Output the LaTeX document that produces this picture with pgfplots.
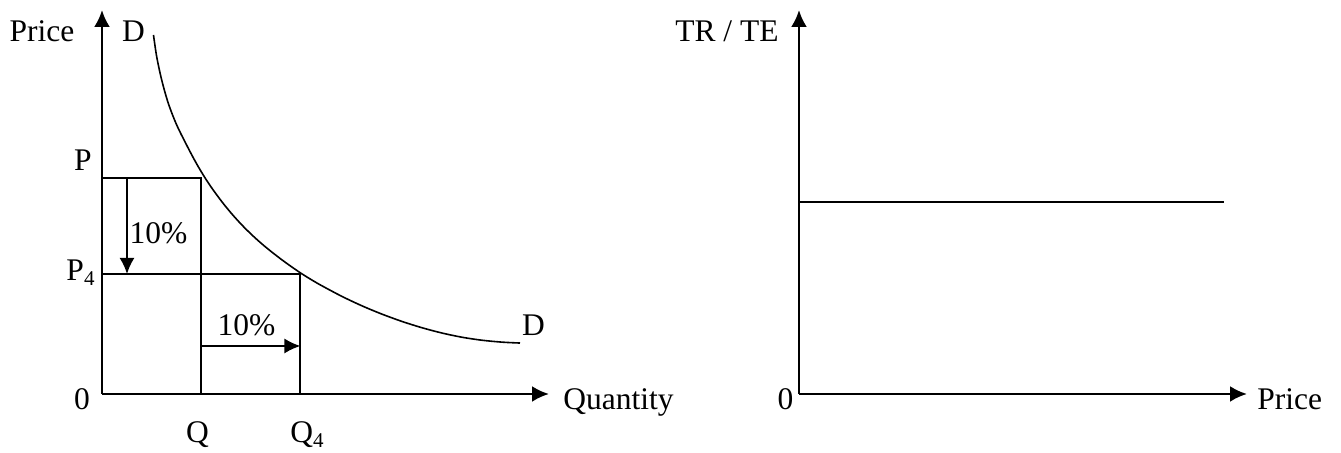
\documentclass[border=0pt]{standalone}
\usepackage{pgfplots}
\pgfplotsset{compat=1.18}
\usepackage{fontspec}
\setmainfont{Liberation Serif}
\usetikzlibrary{arrows.meta}
\newcommand{\sub}[1]{\raisebox{-2.4pt}{\fontsize{10.5}{12}\selectfont #1}}
\begin{document}
\begin{tikzpicture}[font=\fontsize{15.75}{18}\selectfont, lab/.style={inner sep=0pt}]
\useasboundingbox (0,0) rectangle (670.5pt,226.5pt);
\pgfplotsset{
  econ/.style={
    anchor=south west, x=0.5pt, y=0.5pt,
    axis lines=left,
    axis line style={line width=1.3pt,-{Latex[length=8.5pt,width=8pt]}},
    xtick=\empty, ytick=\empty, clip=false
  }
}
% Left panel: demand curve
\begin{axis}[econ, at={(51pt,29.5pt)}, xmin=0, xmax=447, ymin=0, ymax=384]
\addplot[line width=0.8pt, smooth] coordinates {
 (51.5,359) (54.7,337.3) (59.7,314) (66.3,290.7) (74.7,269) (86.3,245.7)
 (95,229.5) (103,216.2) (110,205.7) (120,192.1) (130,179.9) (140,168.9)
 (150,159.0) (160,150.0) (170,141.8) (180,134.1) (190,126.9) (200,120.1)
 (210,113.9) (220,108.15) (240,97.55) (260,88.15) (280,79.85) (300,72.55)
 (320,66.25) (340,60.95) (360,56.75) (380,53.75) (400,51.85) (418,50.95)};
\addplot[line width=1pt] coordinates {(0,216) (99.5,216) (99.5,0)};
\addplot[line width=1pt] coordinates {(0,120) (198.5,120) (198.5,0)};
\addplot[line width=1pt, -{Latex[length=8pt,width=7.5pt]}] coordinates {(25,216) (25,120)};
\addplot[line width=1pt, -{Latex[length=8pt,width=7.5pt]}] coordinates {(99.5,48) (198.5,48)};
\node[lab, anchor=base] at (axis cs:-60,352) {Price};
\node[lab, anchor=base] at (axis cs:31.5,352) {D};
\node[lab, anchor=base] at (axis cs:-19,223.3) {P};
\node[lab, anchor=base] at (axis cs:-21.5,113) {P\sub{4}};
\node[lab, anchor=base] at (axis cs:56.5,150) {10\%};
\node[lab, anchor=base] at (axis cs:144.5,58) {10\%};
\node[lab, anchor=base] at (axis cs:-20,-16) {0};
\node[lab, anchor=base] at (axis cs:95.5,-49) {Q};
\node[lab, anchor=base west] at (axis cs:188,-49) {Q\sub{4}};
\node[lab, anchor=base] at (axis cs:431.5,58) {D};
\node[lab, anchor=base west] at (axis cs:461,-16) {Quantity};
\end{axis}
% Right panel: total revenue
\begin{axis}[econ, at={(399.5pt,29.5pt)}, xmin=0, xmax=448, ymin=0, ymax=384]
\addplot[line width=1.15pt] coordinates {(0,192) (425,192)};
\node[lab, anchor=base east] at (axis cs:-20,352) {TR / TE};
\node[lab, anchor=base] at (axis cs:-13.5,-16) {0};
\node[lab, anchor=base west] at (axis cs:458,-16) {Price};
\end{axis}
\end{tikzpicture}
\end{document}
